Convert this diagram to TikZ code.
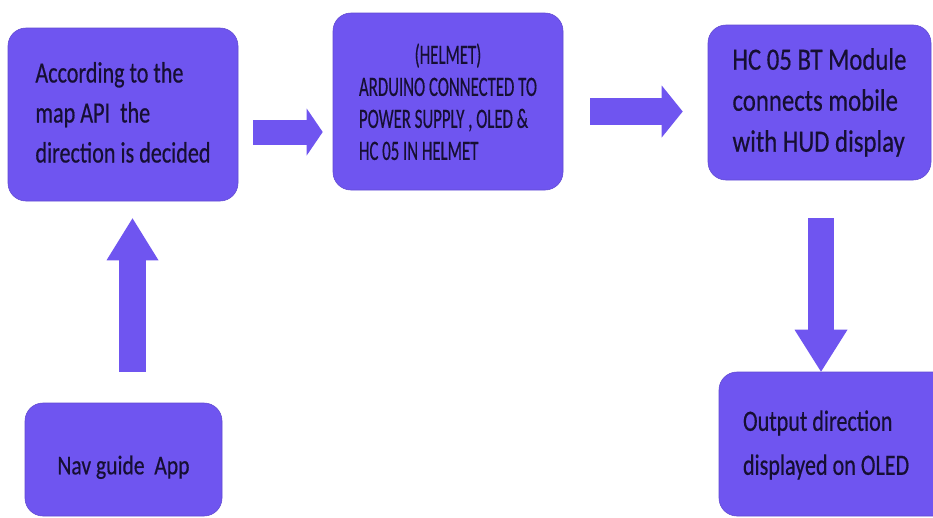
\documentclass[tikz,border=0pt]{standalone}
\usepackage{fontspec}
\usepackage{graphicx}
\setmainfont[FakeBold=0.5]{Carlito}
\usetikzlibrary{arrows.meta,calc}
\definecolor{boxfill}{HTML}{6F55F0}
\definecolor{boxtext}{HTML}{160F33}
\newcommand\sqlines[2]{\scalebox{#1}[1]{\begin{tabular}{@{}l@{}}#2\end{tabular}}}
\newcommand\lowerby[2]{\raisebox{-#1}[\height][\depth]{#2}}
\begin{document}
\begin{tikzpicture}[x=1pt,y=-1pt,
  box/.style={fill=boxfill, draw=boxfill!88!black, line width=0.6pt,
    rounded corners=18pt, text=boxtext, align=left, inner sep=0pt},
  blockarrow/.style={draw=boxfill, line width=#1},
]
\useasboundingbox (0,0) rectangle (933,517);
\fill[white] (0,0) rectangle (933,517);
\clip (0,0) rectangle (933,517);

\node[box, minimum width=230pt, minimum height=173pt,
  font=\fontsize{29.5}{40}\selectfont] (a) at (123,114.5)
  {\sqlines{0.75}{According to the\\map API\ \ the\\direction is decided}};
\node[box, minimum width=230pt, minimum height=177pt,
  font=\fontsize{28}{32}\selectfont] (b) at (448,101.5)
  {\lowerby{4pt}{\sqlines{0.6}{\multicolumn{1}{@{}c@{}}{(HELMET)}\\ARDUINO CONNECTED TO\\POWER SUPPLY , OLED \&\\HC 05 IN HELMET}}};
\node[box, minimum width=223pt, minimum height=155pt,
  font=\fontsize{31}{41}\selectfont] (c) at (819.5,102.5)
  {\sqlines{0.8}{HC 05 BT Module\\connects mobile\\with HUD display}};
\node[box, minimum width=260pt, minimum height=144pt,
  font=\fontsize{29.5}{44}\selectfont] (d) at (849,444)
  {\makebox[212pt][l]{\sqlines{0.75}{Output direction\\displayed on OLED}}};
\node[box, minimum width=197pt, minimum height=113pt,
  font=\fontsize{27}{34}\selectfont] (e) at (123.5,459.5)
  {\lowerby{8pt}{\sqlines{0.8}{Nav guide\ \ App}}};

% A -> B
\coordinate (a1) at ($(a.east)+(15,17.5)$);
\coordinate (b0) at ($(a1 -| b.west)+(-10,0)$);
\draw[blockarrow=25pt, -{Triangle[length=16pt,width=47pt,line width=0pt]}] (a1) -- (b0);
% B -> C
\coordinate (b1) at ($(b.east)+(27,10)$);
\coordinate (c0) at ($(b1 -| c.west)+(-25,0)$);
\draw[blockarrow=27pt, -{Triangle[length=21pt,width=52pt,line width=0pt]}] (b1) -- (c0);
% C -> D
\coordinate (c1) at ($(c.south)+(1.5,38)$);
\coordinate (d0) at (c1 |- d.north);
\draw[blockarrow=26pt, -{Triangle[length=42pt,width=53pt,line width=0pt]}] (c1) -- (d0);
% E -> A
\coordinate (e1) at ($(e.north)+(9,-31)$);
\coordinate (a0) at ($(e1 |- a.south)+(0,17)$);
\draw[blockarrow=27pt, -{Triangle[length=42pt,width=52pt,line width=0pt]}] (e1) -- (a0);
\end{tikzpicture}
\end{document}
